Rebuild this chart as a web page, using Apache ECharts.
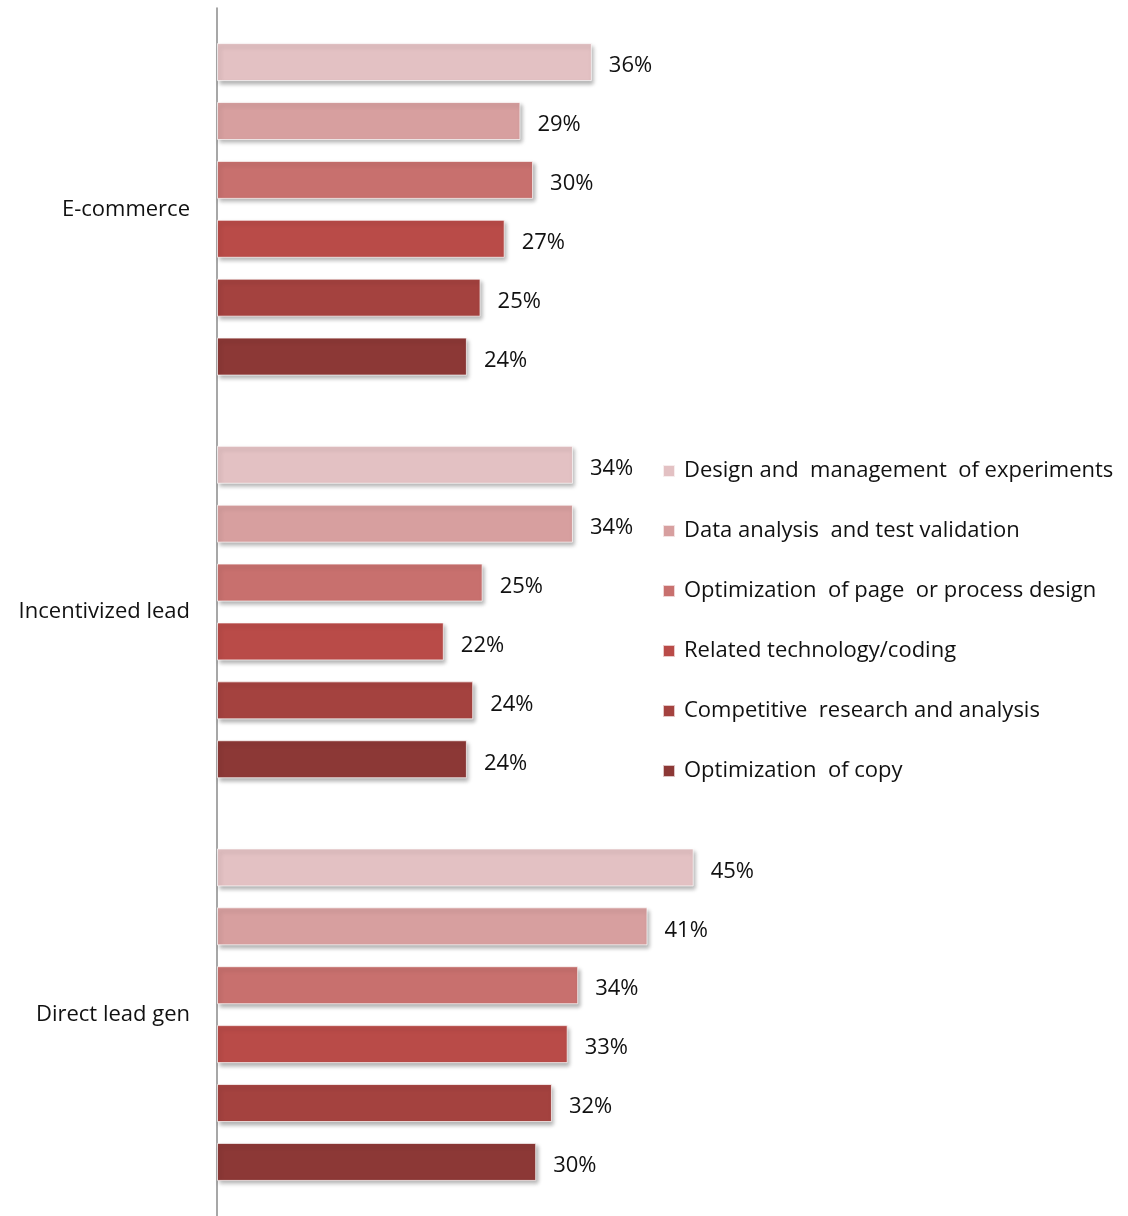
<!DOCTYPE html>
<html><head><meta charset="utf-8">
<script src="https://cdn.jsdelivr.net/npm/echarts@6/dist/echarts.min.js"></script>
<style>html,body{margin:0;padding:0;background:#fff}#c{width:1128px;height:1216px}</style>
</head><body><div id="c"></div>
<script>
const categories = ['E-commerce', 'Incentivized lead', 'Direct lead gen'];
const seriesNames = [
  'Design and  management  of experiments',
  'Data analysis  and test validation',
  'Optimization  of page  or process design',
  'Related technology/coding',
  'Competitive  research and analysis',
  'Optimization  of copy'
];
// values, consistent with the rounded percentage labels
const designMgmt = [35.7, 33.9, 45.4];
const dataAnalysis = [28.9, 33.9, 41.0];
const pageDesign = [30.1, 25.3, 34.4];
const techCoding = [27.4, 21.6, 33.4];
const competitive = [25.1, 24.4, 31.9];
const copyOpt = [23.8, 23.8, 30.4];
const values = [designMgmt, dataAnalysis, pageDesign, techCoding, competitive, copyOpt];
const colors = ['#E3C1C3', '#D79F9F', '#C8706E', '#B94B48', '#A4423F', '#8C3836'];
const FONT = '"Open Sans", "Noto Sans", sans-serif';

const chart = echarts.init(document.getElementById('c'));
chart.setOption({
  animation: false,
  grid: { left: 217, right: 8, top: 8, height: 1212, containLabel: false },
  xAxis: { type: 'value', min: 0, max: 86, show: false, splitLine: { show: false } },
  yAxis: {
    type: 'category', data: categories, inverse: true,
    axisLine: { show: true, lineStyle: { color: '#8a8a8a', width: 1.5 } },
    axisTick: { show: false },
    axisLabel: { fontSize: 22, color: '#111', fontFamily: FONT, margin: 27 }
  },
  legend: {
    orient: 'vertical', left: 657, top: 453,
    itemWidth: 12, itemHeight: 12, itemGap: 34,
    icon: 'rect',
    textStyle: { fontSize: 22, color: '#111', fontFamily: FONT, lineHeight: 26, padding: [0, 0, 0, 4] },
    data: seriesNames
  },
  series: values.map((v, i) => ({
    name: seriesNames[i], type: 'bar', data: v,
    barWidth: 38, barGap: '55%',
    itemStyle: {
      color: colors[i], borderColor: 'rgba(255,255,255,0.7)', borderWidth: 1,
      shadowBlur: 4, shadowOffsetX: 2, shadowOffsetY: 3, shadowColor: 'rgba(0,0,0,0.3)'
    },
    label: {
      show: true, position: 'right', distance: 17, offset: [0, 4],
      formatter: p => Math.round(p.value) + '%', fontSize: 22, color: '#111', fontFamily: FONT
    }
  }))
});
</script></body></html>
